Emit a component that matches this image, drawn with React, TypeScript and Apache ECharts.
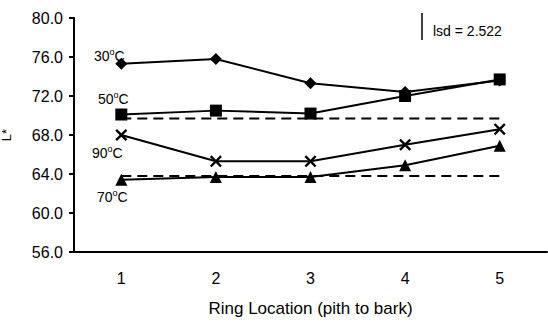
import React, { useEffect, useRef } from "react";
import * as echarts from "echarts";

const categories = ["1", "2", "3", "4", "5"];
const s30 = [75.3, 75.8, 73.3, 72.4, 73.6];
const s50 = [70.1, 70.5, 70.2, 72.0, 73.7];
const s90 = [68.0, 65.3, 65.3, 67.0, 68.6];
const s70 = [63.4, 63.7, 63.7, 64.9, 66.9];
const ref50 = [69.7, 69.7, 69.7, 69.7, 69.7];
const ref70 = [63.8, 63.8, 63.8, 63.8, 63.8];
const seriesLabels = ["30", "50", "90", "70"];
const lsdText = "lsd = 2.522";

const FONT = "Liberation Sans, Arial, sans-serif";
const XSYM =
  "path://M0,1.4 L1.4,0 L5,3.6 L8.6,0 L10,1.4 L6.4,5 L10,8.6 L8.6,10 L5,6.4 L1.4,10 L0,8.6 L3.6,5 Z";

export default function App() {
  const ref = useRef<HTMLDivElement>(null);
  useEffect(() => {
    const chart = echarts.init(ref.current!, null, { renderer: "svg" });
    const line = (data: number[], symbol: string, size: number) => ({
      type: "line",
      data,
      symbol,
      symbolSize: size,
      lineStyle: { color: "#000", width: 2 },
      itemStyle: { color: "#000" },
      z: 3,
    });
    const dashed = (data: number[]) => ({
      type: "line",
      data,
      symbol: "none",
      lineStyle: { color: "#000", width: 2, type: [10, 6] },
      z: 2,
    });
    const labelPos = [
      [94, 47],
      [98, 90],
      [92, 144],
      [97, 188],
    ];
    chart.setOption({
      animation: false,
      grid: { left: 74, right: 1, top: 18, bottom: 70, outerBoundsMode: "none", containLabel: false },
      xAxis: {
        type: "category",
        data: categories,
        boundaryGap: true,
        name: "Ring Location (pith to bark)",
        nameLocation: "middle",
        nameGap: 48,
        nameTextStyle: { fontFamily: FONT, fontSize: 17, color: "#000" },
        axisLine: { lineStyle: { color: "#000", width: 2 } },
        axisTick: { length: 5, lineStyle: { color: "#000", width: 2 } },
        axisLabel: { fontFamily: FONT, fontSize: 16, color: "#000", margin: 18 },
        splitLine: { show: false },
      },
      yAxis: {
        type: "value",
        min: 56,
        max: 80,
        interval: 4,
        name: "L*",
        nameLocation: "middle",
        nameGap: 61,
        nameTextStyle: { fontFamily: FONT, fontSize: 13, color: "#000" },
        axisLine: { show: true, lineStyle: { color: "#000", width: 2 } },
        axisTick: { show: true, length: 5, lineStyle: { color: "#000", width: 2 } },
        axisLabel: {
          fontFamily: FONT,
          fontSize: 16,
          color: "#000",
          margin: 11,
          formatter: (v: number) => v.toFixed(1),
        },
        splitLine: { show: false },
      },
      series: [
        dashed(ref50),
        dashed(ref70),
        line(s30, "diamond", 12),
        line(s50, "rect", 12),
        line(s90, XSYM, 12),
        line(s70, "triangle", 12),
      ],
      graphic: [
        ...seriesLabels.map((t, i) => ({
          type: "text",
          x: labelPos[i][0],
          y: labelPos[i][1],
          style: {
            text: `{n|${t}}{s|o}{n|C}`,
            rich: {
              n: { fontFamily: FONT, fontSize: 14, fill: "#000", lineHeight: 16, verticalAlign: "bottom" },
              s: { fontFamily: FONT, fontSize: 9, fill: "#000", lineHeight: 16, verticalAlign: "top" },
            },
          },
        })),
        {
          type: "line",
          shape: { x1: 422, y1: 13, x2: 422, y2: 40 },
          style: { stroke: "#000", lineWidth: 1.5 },
        },
        {
          type: "text",
          x: 433,
          y: 24,
          style: { text: lsdText, fontFamily: FONT, fontSize: 14, fill: "#000" },
        },
      ],
    });
    return () => chart.dispose();
  }, []);
  return (
    <div
      ref={ref}
      style={{ position: "fixed", left: 0, top: 0, width: 548, height: 322, background: "#fff" }}
    />
  );
}
